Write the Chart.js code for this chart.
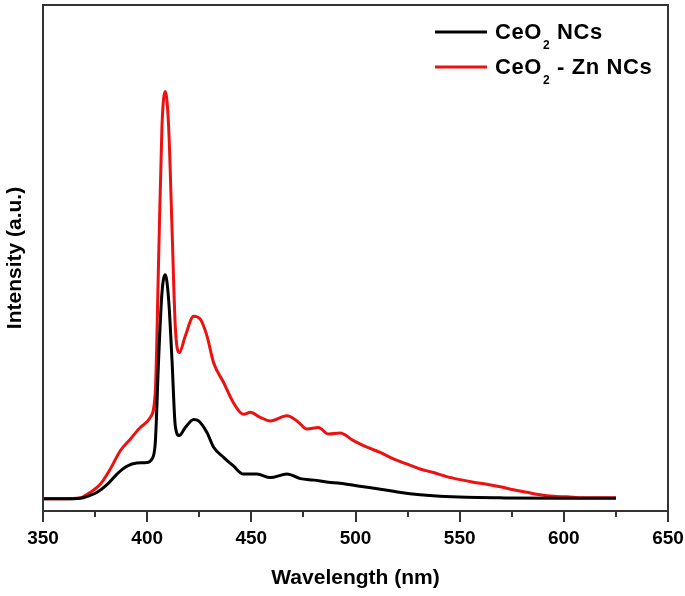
<!DOCTYPE html>
<html>
<head>
<meta charset="utf-8">
<script src="https://cdn.jsdelivr.net/npm/chart.js@4.4.0/dist/chart.umd.min.js"></script>
<style>
  html, body { margin: 0; padding: 0; background: #fff; }
  #wrap { width: 685px; height: 596px; position: relative; }
</style>
</head>
<body>
<div id="wrap"><canvas id="pl-chart"></canvas></div>
<script>
// Photoluminescence spectra (wavelength in nm, intensity in a.u.)
const ceo2Wave = [350, 360, 368, 372, 376, 381, 385.5, 390, 395, 400, 402.3, 403.9, 405.5, 407.1, 408.7, 410.3, 411.9, 413.5, 415.4, 418.3, 422.3, 424.7, 428.7, 431.9, 436.7, 441.4, 446.2, 452.7, 459.1, 467.1, 473.5, 480, 487, 492.6, 502, 512, 521, 531, 540.6, 553.4, 569.4, 600, 625];
const ceo2Int  = [2.4, 2.4, 2.5, 3.0, 3.7, 5.3, 7.3, 8.8, 9.5, 9.6, 10.3, 13.5, 30, 43.1, 46.7, 41.8, 30, 16.8, 14.9, 16.5, 18.1, 17.8, 15.5, 12.6, 10.6, 8.9, 7.3, 7.3, 6.6, 7.3, 6.4, 6.1, 5.7, 5.5, 4.9, 4.3, 3.7, 3.2, 2.9, 2.7, 2.6, 2.5, 2.5];

const znWave = [350, 360, 368, 372.7, 377.5, 382.3, 387.1, 391.9, 396.7, 401.5, 403.9, 405.5, 407.1, 408.7, 410.3, 411.9, 413.5, 415.4, 418.3, 422.3, 425.5, 428.7, 431.9, 436.7, 441.4, 446.2, 449.5, 454.3, 459.1, 467.1, 471.9, 476.7, 482.2, 487, 492.6, 499, 505.5, 511.8, 518.2, 524.6, 531, 537.4, 543.8, 550.2, 556.6, 563, 569.4, 575.8, 582.2, 588.6, 595, 601.4, 609.4, 625];
const znInt  = [2.4, 2.4, 2.6, 3.7, 5.3, 8.3, 11.9, 14.2, 16.5, 18.5, 23.5, 49.7, 76, 82.9, 76, 56.3, 36.5, 31.3, 34.6, 38.5, 37.9, 34.6, 29.3, 25.4, 21.4, 19.1, 19.5, 18.5, 17.8, 18.8, 17.8, 16.2, 16.5, 15.2, 15.4, 13.9, 12.6, 11.6, 10.3, 9.3, 8.3, 7.6, 6.8, 6.2, 5.7, 5.3, 4.8, 4.2, 3.7, 3.2, 2.9, 2.8, 2.6, 2.6];

const seriesLabels = ['CeO|2| NCs', 'CeO|2| - Zn NCs'];
const seriesColors = ['#000000', '#ee1111'];

const xMin = 350, xMax = 650, xStep = 50;
const minorTicks = [375, 425, 475, 525, 575, 625];
const FONT = '"Liberation Sans", Arial, sans-serif';

function toPoints(xs, ys) {
    return xs.map((x, i) => ({ x: x, y: ys[i] }));
}

// frame around the plot area + short minor ticks on the x axis
const framePlugin = {
    id: 'frame',
    afterDraw(chart) {
        const { ctx, chartArea: a } = chart;
        const xs = chart.scales.x;
        ctx.save();
        ctx.strokeStyle = '#333';
        ctx.lineWidth = 2;
        ctx.strokeRect(a.left, a.top, a.right - a.left, a.bottom - a.top);
        ctx.beginPath();
        minorTicks.forEach(v => {
            const px = Math.round(xs.getPixelForValue(v));
            ctx.moveTo(px, a.bottom);
            ctx.lineTo(px, a.bottom + 6);
        });
        ctx.stroke();
        ctx.restore();
    }
};

// legend with subscripts, top right inside the frame
const legendPlugin = {
    id: 'subLegend',
    afterDraw(chart) {
        const { ctx, chartArea: a } = chart;
        ctx.save();
        seriesLabels.forEach((lab, i) => {
            const y = a.top + 27 + i * 35;
            const x0 = a.right - 233;
            ctx.strokeStyle = seriesColors[i];
            ctx.lineWidth = 3;
            ctx.beginPath();
            ctx.moveTo(x0, y);
            ctx.lineTo(x0 + 52, y);
            ctx.stroke();
            const parts = lab.split('|');
            let x = x0 + 60;
            ctx.fillStyle = '#000';
            ctx.textBaseline = 'alphabetic';
            ctx.letterSpacing = '0.6px';
            ctx.font = 'bold 22px ' + FONT;
            ctx.fillText(parts[0], x, y + 7);
            x += ctx.measureText(parts[0]).width + 1;
            ctx.font = 'bold 12px ' + FONT;
            ctx.fillText(parts[1], x, y + 17);
            x += ctx.measureText(parts[1]).width;
            ctx.font = 'bold 22px ' + FONT;
            ctx.fillText(parts[2], x, y + 7);
        });
        ctx.restore();
    }
};

new Chart(document.getElementById('pl-chart'), {
    type: 'line',
    data: {
        datasets: [
            { label: 'CeO2 NCs', data: toPoints(ceo2Wave, ceo2Int), borderColor: seriesColors[0] },
            { label: 'CeO2 - Zn NCs', data: toPoints(znWave, znInt), borderColor: seriesColors[1] }
        ]
    },
    options: {
        responsive: true,
        maintainAspectRatio: false,
        animation: false,
        layout: { padding: { top: 5, right: 17, bottom: 0, left: 0 } },
        elements: {
            point: { radius: 0 },
            line: { borderWidth: 3, cubicInterpolationMode: 'monotone', fill: false }
        },
        plugins: { legend: { display: false }, tooltip: { enabled: false } },
        scales: {
            x: {
                type: 'linear',
                min: xMin,
                max: xMax,
                afterFit(scale) {
                    scale.height = 85;
                    scale.paddingLeft = 0;
                    scale.paddingRight = 0;
                },
                ticks: {
                    stepSize: xStep,
                    autoSkip: false,
                    maxRotation: 0,
                    padding: 5,
                    color: '#000',
                    font: { family: FONT, size: 19, weight: 'bold' }
                },
                grid: { drawOnChartArea: false, tickLength: 11, tickColor: '#333', lineWidth: 2 },
                border: { color: '#333', width: 2 },
                title: {
                    display: true,
                    text: 'Wavelength (nm)',
                    color: '#000',
                    font: { family: FONT, size: 21, weight: 'bold' },
                    padding: { top: 0, bottom: 5 }
                }
            },
            y: {
                min: 0,
                max: 100,
                afterFit(scale) { scale.width = 43; },
                ticks: { display: false },
                grid: { display: false },
                border: { color: '#333', width: 2 },
                title: {
                    display: true,
                    text: 'Intensity (a.u.)',
                    color: '#000',
                    font: { family: FONT, size: 21, weight: 'bold' },
                    padding: { top: 3, bottom: 0 }
                }
            }
        }
    },
    plugins: [framePlugin, legendPlugin]
});
</script>
</body>
</html>
